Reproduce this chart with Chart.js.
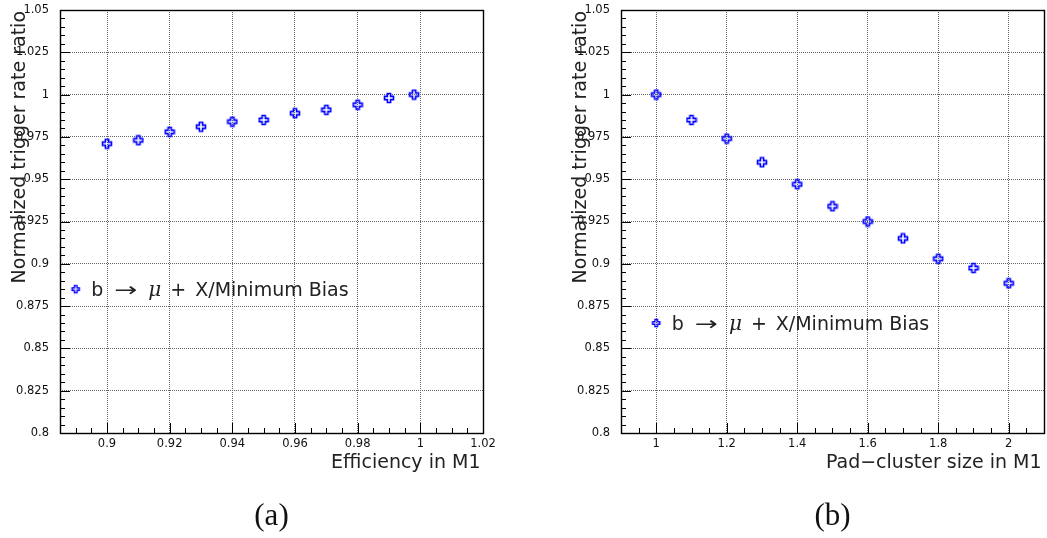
<!DOCTYPE html>
<html>
<head>
<meta charset="utf-8">
<script src="https://cdn.jsdelivr.net/npm/chart.js@4"></script>
<style>
  html, body { margin: 0; padding: 0; background: #fff; }
  #wrap { position: relative; width: 1047px; height: 538px; overflow: hidden; }
  canvas { position: absolute; top: 0; }
  #chartEff { left: 0; }
  #chartPad { left: 561px; }
</style>
</head>
<body>
<div id="wrap">
  <canvas id="chartEff" width="523" height="538"></canvas>
  <canvas id="chartPad" width="486" height="538"></canvas>
</div>
<script>
// Trigger rate ratio vs. M1 efficiency
const efficiency   = [0.90, 0.91, 0.92, 0.93, 0.94, 0.95, 0.96, 0.97, 0.98, 0.99, 0.998];
const ratioVsEff   = [0.971, 0.973, 0.978, 0.981, 0.984, 0.985, 0.989, 0.991, 0.994, 0.998, 1.000];

// Trigger rate ratio vs. pad-cluster size
const clusterSize  = [1.0, 1.1, 1.2, 1.3, 1.4, 1.5, 1.6, 1.7, 1.8, 1.9, 2.0];
const ratioVsPad   = [1.000, 0.985, 0.974, 0.960, 0.947, 0.934, 0.925, 0.915, 0.903, 0.8975, 0.8885];

// Axis ticks
const ratioTicks   = [0.8, 0.825, 0.85, 0.875, 0.9, 0.925, 0.95, 0.975, 1.0, 1.025, 1.05];
const effTicks     = [0.90, 0.92, 0.94, 0.96, 0.98, 1.00, 1.02];
const padTicks     = [1.0, 1.2, 1.4, 1.6, 1.8, 2.0];

const legendText   = ['b', '\u2192', '\u03BC', '+', 'X/Minimum Bias'];

const FONT = '"DejaVu Sans", "Liberation Sans", sans-serif';

// Open-cross marker
function makeCross(h, a, lw) {
  const c = document.createElement('canvas');
  c.width = 12; c.height = 12;
  const g = c.getContext('2d');
  const m = 6;
  g.beginPath();
  g.moveTo(m - a, m - h); g.lineTo(m + a, m - h); g.lineTo(m + a, m - a);
  g.lineTo(m + h, m - a); g.lineTo(m + h, m + a); g.lineTo(m + a, m + a);
  g.lineTo(m + a, m + h); g.lineTo(m - a, m + h); g.lineTo(m - a, m + a);
  g.lineTo(m - h, m + a); g.lineTo(m - h, m - a); g.lineTo(m - a, m - a);
  g.closePath();
  g.strokeStyle = '#0000ff';
  g.lineWidth = lw;
  g.stroke();
  return c;
}
const cross = makeCross(4.5, 1.6, 1.6);
const legendCross = makeCross(3.6, 1.3, 1.4);

function fmt(v) { return String(parseFloat(v.toFixed(4))); }

// Frame, inward ticks, axis titles, legend and caption
const framePlugin = {
  id: 'frameDecor',
  afterDraw(chart, args, o) {
    const ctx = chart.ctx;
    const ca = chart.chartArea;
    const xs = chart.scales.x, ys = chart.scales.y;
    ctx.save();

    // inward tick marks
    ctx.strokeStyle = '#000';
    ctx.lineWidth = 1;
    ctx.beginPath();
    const yStep = o.yMinor, yMaj = o.yMajor;
    for (let k = Math.ceil(ys.min / yStep - 1e-6); k * yStep <= ys.max + 1e-9; k++) {
      const v = k * yStep;
      const major = Math.abs(v / yMaj - Math.round(v / yMaj)) < 1e-6;
      const py = Math.round(ys.getPixelForValue(v)) + 0.5;
      ctx.moveTo(ca.left, py);
      ctx.lineTo(ca.left + (major ? 10 : 5), py);
    }
    const xStep = o.xMinor, xMaj = o.xMajor;
    for (let k = Math.ceil(xs.min / xStep - 1e-6); k * xStep <= xs.max + 1e-9; k++) {
      const v = k * xStep;
      const major = Math.abs(v / xMaj - Math.round(v / xMaj)) < 1e-6;
      const px = Math.round(xs.getPixelForValue(v)) + 0.5;
      ctx.moveTo(px, ca.bottom);
      ctx.lineTo(px, ca.bottom - (major ? 10 : 5));
    }
    ctx.stroke();

    // frame
    ctx.lineWidth = 1.4;
    ctx.strokeRect(Math.round(ca.left) + 0.5, Math.round(ca.top) + 0.5,
                   Math.round(ca.right - ca.left), Math.round(ca.bottom - ca.top));

    // axis titles
    ctx.fillStyle = '#222';
    ctx.font = '19px ' + FONT;
    ctx.textAlign = 'right';
    ctx.textBaseline = 'alphabetic';
    ctx.fillText(o.xTitle, ca.right - 2.5, ca.bottom + 35);
    ctx.save();
    ctx.translate(ca.left - 35, ca.top + 1);
    ctx.rotate(-Math.PI / 2);
    ctx.fillText(o.yTitle, 0, 0);
    ctx.restore();

    // legend
    const mx = xs.getPixelForValue(o.legendX);
    const my = ys.getPixelForValue(o.legendY);
    ctx.drawImage(legendCross, mx - legendCross.width / 2, my - legendCross.height / 2);
    ctx.textAlign = 'left';
    let tx = mx + 15.5;
    const base = my + 7;
    ctx.font = '19px ' + FONT;
    ctx.fillText(legendText[0], tx, base);
    tx += ctx.measureText(legendText[0]).width + 11;
    ctx.save();
    ctx.translate(tx, base);
    ctx.scale(1.45, 1);
    ctx.font = '19px ' + FONT;
    ctx.fillText(legendText[1], 0, 0);
    const aw = ctx.measureText(legendText[1]).width * 1.45;
    ctx.restore();
    tx += aw + 11;
    ctx.font = 'italic 20px "DejaVu Serif", serif';
    ctx.fillText(legendText[2], tx, base);
    tx += ctx.measureText(legendText[2]).width + 9;
    ctx.font = '19px ' + FONT;
    ctx.fillText(legendText[3], tx, base);
    tx += ctx.measureText(legendText[3]).width + 9;
    ctx.fillText(legendText[4], tx, base);

    // caption
    ctx.font = '31px "Liberation Serif", "DejaVu Serif", serif';
    ctx.textAlign = 'center';
    ctx.fillStyle = '#111';
    ctx.fillText(o.caption, (ca.left + ca.right) / 2, ca.bottom + 92);

    ctx.restore();
  }
};

function makeChart(id, xs, ys, xMin, xMax, xTickVals, padRight, decor) {
  return new Chart(document.getElementById(id), {
    type: 'scatter',
    data: {
      datasets: [{
        data: xs.map((x, i) => ({ x: x, y: ys[i] })),
        pointStyle: cross,
        pointRadius: 5,
        pointHoverRadius: 5,
        showLine: false
      }]
    },
    options: {
      responsive: false,
      animation: false,
      devicePixelRatio: 1,
      events: [],
      layout: { autoPadding: false, padding: { top: 10, right: padRight, left: 0, bottom: 0 } },
      plugins: { legend: { display: false }, tooltip: { enabled: false }, frameDecor: decor },
      scales: {
        x: {
          type: 'linear', position: 'bottom', min: xMin, max: xMax,
          afterBuildTicks: s => { s.ticks = xTickVals.map(v => ({ value: v })); },
          afterFit: s => { s.height = 105; s.paddingLeft = 0; s.paddingRight = 0; },
          grid: { color: '#666', lineWidth: 1, drawTicks: false },
          border: { display: false, dash: [1, 1] },
          ticks: { padding: 4, color: '#111', font: { family: FONT, size: 11.5 },
                   callback: v => fmt(v), maxRotation: 0, autoSkip: false }
        },
        y: {
          type: 'linear', position: 'left', min: 0.8, max: 1.05,
          afterBuildTicks: s => { s.ticks = ratioTicks.map(v => ({ value: v })); },
          afterFit: s => { s.width = 60; s.paddingTop = 0; s.paddingBottom = 0; },
          grid: { color: '#666', lineWidth: 1, drawTicks: false },
          border: { display: false, dash: [1, 1] },
          ticks: { padding: 11, color: '#111', font: { family: FONT, size: 11.5 },
                   callback: v => fmt(v), autoSkip: false }
        }
      }
    },
    plugins: [framePlugin]
  });
}

makeChart('chartEff', efficiency, ratioVsEff, 0.885, 1.02, effTicks, 40, {
  xTitle: 'Efficiency in M1',
  yTitle: 'Normalized trigger rate ratio',
  xMinor: 0.005, xMajor: 0.02, yMinor: 0.005, yMajor: 0.025,
  legendX: 0.89, legendY: 0.885,
  caption: '(a)'
});

makeChart('chartPad', clusterSize, ratioVsPad, 0.9, 2.1, padTicks, 3, {
  xTitle: 'Pad\u2212cluster size in M1',
  yTitle: 'Normalized trigger rate ratio',
  xMinor: 0.05, xMajor: 0.2, yMinor: 0.005, yMajor: 0.025,
  legendX: 1.0, legendY: 0.865,
  caption: '(b)'
});
</script>
</body>
</html>
